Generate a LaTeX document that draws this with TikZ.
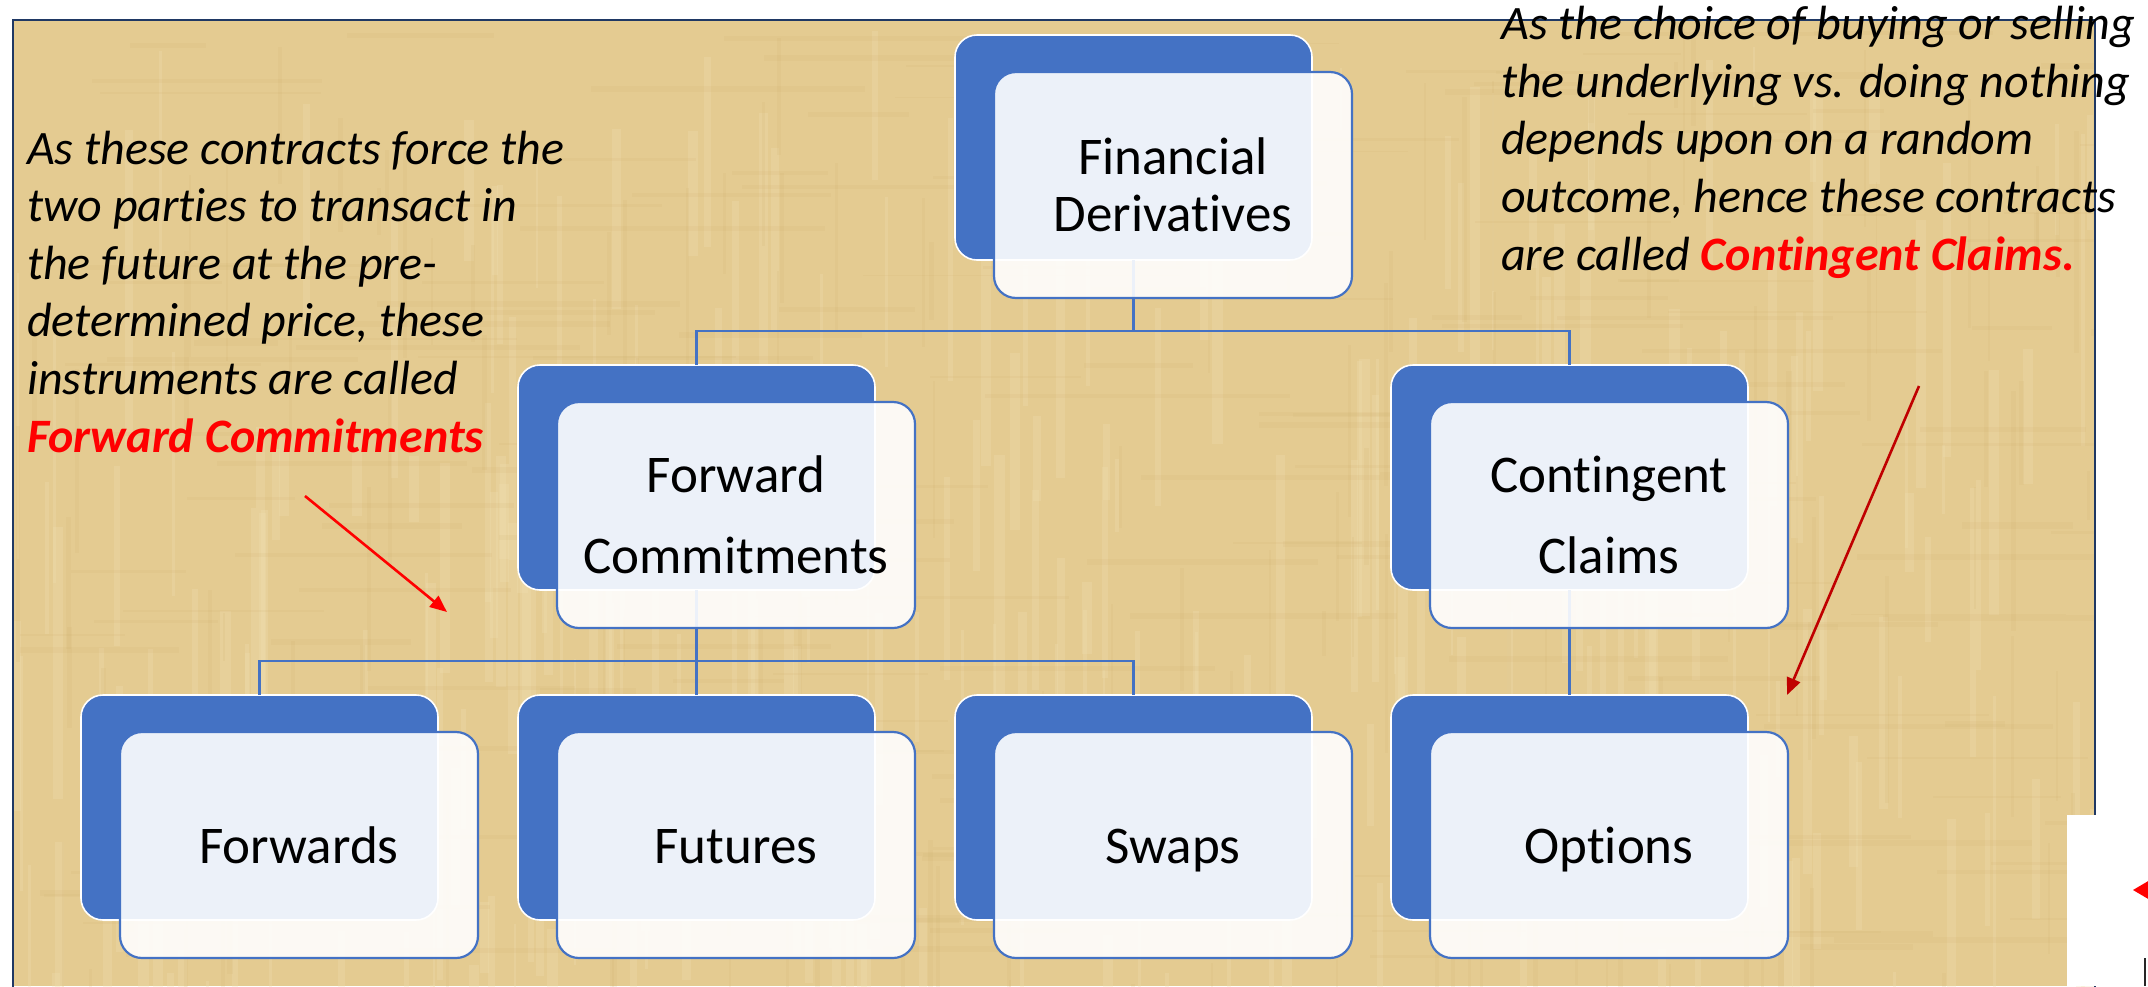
\documentclass[tikz,border=0pt]{standalone}
\usepackage{fontspec}
\setmainfont{Carlito}[Ligatures=NoCommon]
\usetikzlibrary{arrows.meta}
\definecolor{smblue}{HTML}{4472C4}
\definecolor{framenavy}{HTML}{1F3864}
\definecolor{papyrus}{HTML}{E4CB91}
\definecolor{papyruslight}{HTML}{F1DFB2}
\definecolor{papyrusdark}{HTML}{CFAF6E}
\definecolor{hotred}{HTML}{FF0000}
\definecolor{deepred}{HTML}{C00000}
\begin{document}
\begin{tikzpicture}[x=1pt,y=-1pt,
  backbox/.style={draw=white, line width=1.6pt, fill=smblue, rounded corners=22pt,
    minimum width=357pt, minimum height=225pt, inner sep=0pt, outer sep=0pt, anchor=north west},
  frontbox/.style={draw=smblue, line width=2.2pt, fill=white, fill opacity=0.9, text opacity=1,
    rounded corners=22pt, minimum width=358pt, minimum height=226pt, inner sep=0pt,
    outer sep=0pt, anchor=north west, align=center, font=\fontsize{53}{57}\selectfont},
  tall/.style={font=\fontsize{53}{81}\selectfont},
  single/.style={text height=36pt, text depth=0pt},
  conn/.style={draw=smblue, line width=2.4pt},
  note/.style={anchor=base west, align=left, inner sep=0pt, font=\itshape\fontsize{48}{57.6}\selectfont},
  pointer/.style={line width=2.6pt, -{Triangle[length=17pt,width=14pt]}}
]
\useasboundingbox (0,0) rectangle (2148,986);
\fill[white] (0,0) rectangle (2148,986);

% papyrus background with a light fibre texture
\fill[papyrus] (13,20) rectangle (2095,986);
\begin{scope}
  \clip (13,20) rectangle (2095,986);
  \pgfmathsetseed{1234}
  \foreach \k in {1,...,260}{
    \pgfmathsetmacro{\px}{13+2082*rnd}
    \pgfmathsetmacro{\py}{20+966*rnd}
    \pgfmathsetmacro{\pw}{2+9*rnd}
    \pgfmathsetmacro{\ph}{60+260*rnd}
    \fill[papyruslight, opacity=0.28] (\px,\py) rectangle ++(\pw,\ph);
  }
  \foreach \k in {1,...,200}{
    \pgfmathsetmacro{\px}{13+2082*rnd}
    \pgfmathsetmacro{\py}{20+966*rnd}
    \pgfmathsetmacro{\pw}{60+260*rnd}
    \pgfmathsetmacro{\ph}{1.5+5*rnd}
    \fill[papyrusdark, opacity=0.12] (\px,\py) rectangle ++(\pw,\ph);
  }
  \foreach \k in {1,...,160}{
    \pgfmathsetmacro{\px}{13+2082*rnd}
    \pgfmathsetmacro{\py}{20+966*rnd}
    \pgfmathsetmacro{\pw}{1.5+4*rnd}
    \pgfmathsetmacro{\ph}{40+200*rnd}
    \fill[papyrusdark, opacity=0.14] (\px,\py) rectangle ++(\pw,\ph);
  }
\end{scope}
\draw[framenavy, line width=2.5pt] (13,990) -- (13,20) -- (2095,20) -- (2095,990);

% back (blue) boxes
\node[backbox] (fdb) at (955,35) {};
\node[backbox] (fcb) at (518,365) {};
\node[backbox] (ccb) at (1391,365) {};
\node[backbox] (fwb) at (81,695) {};
\node[backbox] (fub) at (518,695) {};
\node[backbox] (swb) at (955,695) {};
\node[backbox] (opb) at (1391,695) {};

% tree connectors
\coordinate (busa) at (0,331);
\coordinate (busb) at (0,661);
\draw[conn] (fdb.south) -- (fdb.south |- busa) -| (fcb.north);
\draw[conn] (fdb.south |- busa) -| (ccb.north);
\draw[conn] (fcb.south) -- (fcb.south |- busb) -| (fwb.north);
\draw[conn] (fcb.south |- busb) -- (fub.north);
\draw[conn] (fcb.south |- busb) -| (swb.north);
\draw[conn] (ccb.south) -- (opb.north);

% front (label) boxes
\node[frontbox] (fd) at (994,72) {Financial\\Derivatives};
\node[frontbox, tall] (fc) at (557,402) {Forward\\Commitments};
\node[frontbox, tall] (cc) at (1430,402) {Contingent\\Claims};
\node[frontbox, single] (fw) at (120,732) {Forwards};
\node[frontbox, single] (fu) at (557,732) {Futures};
\node[frontbox, single] (sw) at (994,732) {Swaps};
\node[frontbox, single] (op) at (1430,732) {Options};

% explanatory notes (anchored at the baseline of their last line)
\node[note] (lnote) at (27,452) {As these contracts force the\\two parties to transact in\\the future at the pre-\\determined price, these\\instruments are called\\\textbf{\color{hotred}Forward Commitments}};
\node[note] (rnote) at (1501,270) {As the choice of buying or selling\\the underlying vs. doing nothing\\depends upon on a random\\outcome, hence these contracts\\are called \textbf{\color{hotred}Contingent Claims.}};

% pointers
\coordinate (la) at (305,496);
\coordinate (lb) at (447,612);
\coordinate (ra) at (1919,386);
\coordinate (rb) at (1787,695);
\draw[pointer, hotred] (la) -- (lb);
\draw[pointer, deepred] (ra) -- (rb);

% cut-off corner at the lower right
\fill[white] (2067,815) rectangle (2148,986);
\fill[hotred] (2133,890) -- (2150,880) -- (2150,900) -- cycle;
\fill[black!85] (2143.5,958) rectangle (2146,986);
\end{tikzpicture}
\end{document}
